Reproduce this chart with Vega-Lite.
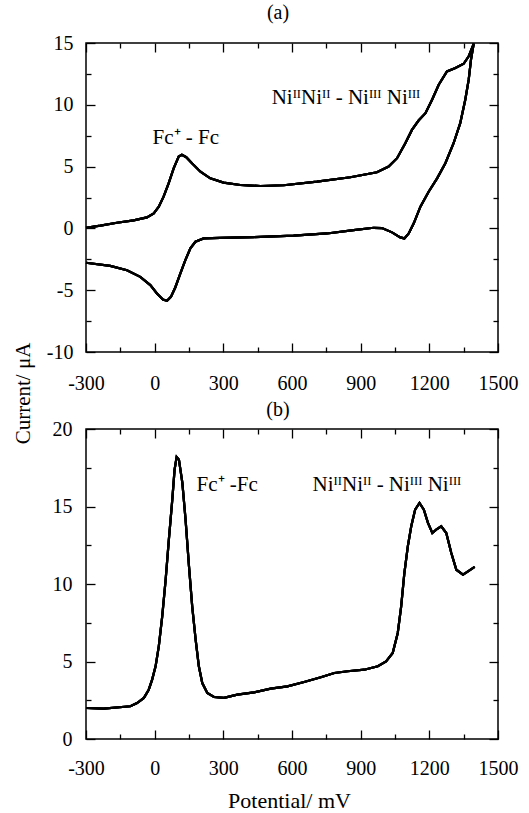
{
  "$schema": "https://vega.github.io/schema/vega-lite/v6.json",
  "background": "white",
  "padding": {"left": 11, "top": 2, "right": 5, "bottom": 0},
  "bounds": "flush",
  "spacing": 77,
  "config": {
    "view": {"stroke": "black", "strokeWidth": 1.5},
    "font": "Liberation Serif",
    "axis": {
      "domain": false, "grid": false, "tickColor": "black", "tickWidth": 1.3,
      "labelColor": "black", "labelFont": "Liberation Serif", "labelFontSize": 20,
      "labelFlush": false, "labelOverlap": false, "labelExpr": "'' + datum.value",
      "titleFont": "Liberation Serif", "titleColor": "black", "titleFontWeight": "normal", "titleFontSize": 21
    }
  },
  "vconcat": [
    {
      "width": 412, "height": 309,
      "title": {"text": "(a)", "font": "Liberation Serif", "fontSize": 20, "fontWeight": "normal", "color": "black", "frame": "group", "baseline": "alphabetic", "offset": 24, "dx": -14, "dy": 30},
      "data": {"values": [
        {"i":1,"E":-300,"I":0.05},{"i":2,"E":-237,"I":0.22},{"i":3,"E":-165,"I":0.46},{"i":4,"E":-92,"I":0.65},
        {"i":5,"E":-34,"I":0.89},{"i":6,"E":-4,"I":1.22},{"i":7,"E":18,"I":1.76},{"i":8,"E":39,"I":2.57},
        {"i":9,"E":61,"I":3.65},{"i":10,"E":83,"I":4.86},{"i":11,"E":105,"I":5.81},{"i":12,"E":119,"I":5.95},
        {"i":13,"E":138,"I":5.76},{"i":14,"E":163,"I":5.27},{"i":15,"E":200,"I":4.59},{"i":16,"E":243,"I":4.05},
        {"i":17,"E":301,"I":3.70},{"i":18,"E":374,"I":3.51},{"i":19,"E":462,"I":3.43},{"i":20,"E":564,"I":3.49},
        {"i":21,"E":709,"I":3.78},{"i":22,"E":855,"I":4.14},{"i":23,"E":971,"I":4.54},{"i":24,"E":1022,"I":5.0},
        {"i":25,"E":1059,"I":5.68},{"i":26,"E":1095,"I":6.89},{"i":27,"E":1124,"I":7.97},{"i":28,"E":1153,"I":8.73},
        {"i":29,"E":1183,"I":9.32},{"i":30,"E":1212,"I":10.41},{"i":31,"E":1241,"I":11.62},{"i":32,"E":1277,"I":12.70},
        {"i":33,"E":1314,"I":12.97},{"i":34,"E":1350,"I":13.32},{"i":35,"E":1372,"I":13.92},{"i":36,"E":1394,"I":14.95},
        {"i":37,"E":1382,"I":13.65},{"i":38,"E":1372,"I":12.03},{"i":39,"E":1357,"I":10.41},{"i":40,"E":1335,"I":8.51},
        {"i":41,"E":1306,"I":6.89},{"i":42,"E":1270,"I":5.27},{"i":43,"E":1234,"I":4.05},{"i":44,"E":1197,"I":2.97},
        {"i":45,"E":1161,"I":1.76},{"i":46,"E":1132,"I":0.41},{"i":47,"E":1110,"I":-0.41},{"i":48,"E":1091,"I":-0.81},
        {"i":49,"E":1073,"I":-0.73},{"i":50,"E":1037,"I":-0.32},{"i":51,"E":993,"I":0.03},{"i":52,"E":957,"I":0.05},
        {"i":53,"E":869,"I":-0.14},{"i":54,"E":753,"I":-0.41},{"i":55,"E":607,"I":-0.59},{"i":56,"E":433,"I":-0.70},
        {"i":57,"E":287,"I":-0.76},{"i":58,"E":214,"I":-0.81},{"i":59,"E":178,"I":-1.08},{"i":60,"E":156,"I":-1.62},
        {"i":61,"E":134,"I":-2.57},{"i":62,"E":112,"I":-3.65},{"i":63,"E":90,"I":-4.78},{"i":64,"E":71,"I":-5.54},
        {"i":65,"E":54,"I":-5.86},{"i":66,"E":36,"I":-5.76},{"i":67,"E":10,"I":-5.27},{"i":68,"E":-19,"I":-4.59},
        {"i":69,"E":-63,"I":-3.92},{"i":70,"E":-121,"I":-3.38},{"i":71,"E":-194,"I":-3.03},{"i":72,"E":-300,"I":-2.78}
      ]},
      "layer": [
        {
          "mark": {"type": "line", "color": "black", "strokeWidth": 2.2},
          "encoding": {
            "x": {"field": "E", "type": "quantitative", "scale": {"domain": [-300, 1500], "nice": false},
                  "axis": {"orient": "bottom", "values": [-300,0,300,600,900,1200,1500], "tickSize": -9, "labelPadding": 30, "labelFont": "Liberation Serif", "title": null}},
            "y": {"field": "I", "type": "quantitative", "scale": {"domain": [-10, 15], "nice": false, "zero": false},
                  "axis": {"orient": "left", "values": [-10,-5,0,5,10,15], "tickSize": -9, "labelPadding": 22, "labelFont": "Liberation Serif",
                           "title": "Current/ μA", "titleAngle": 270, "titleX": -63, "titleY": 350, "titleAlign": "center", "titleBaseline": "middle"}},
            "order": {"field": "i", "type": "quantitative"}
          }
        },
        {
          "mark": {"type": "line", "color": "black", "strokeWidth": 2.2},
          "encoding": {
            "x": {"field": "E", "type": "quantitative", "scale": {"domain": [-300, 1500], "nice": false},
                  "axis": {"orient": "top", "values": [-300,0,300,600,900,1200,1500], "tickSize": -9, "labels": false, "title": null}},
            "y": {"field": "I", "type": "quantitative", "scale": {"domain": [-10, 15], "nice": false, "zero": false},
                  "axis": {"orient": "right", "values": [-10,-5,0,5,10,15], "tickSize": -9, "labels": false, "title": null}},
            "order": {"field": "i", "type": "quantitative"}
          }
        },
        {
          "mark": {"type": "line", "color": "black", "strokeWidth": 2.2},
          "encoding": {
            "x": {"field": "E", "type": "quantitative", "scale": {"domain": [-300, 1500], "nice": false},
                  "axis": {"orient": "bottom", "values": [-150,150,450,750,1050,1350], "tickSize": -5, "labels": false, "title": null}},
            "y": {"field": "I", "type": "quantitative", "scale": {"domain": [-10, 15], "nice": false, "zero": false},
                  "axis": {"orient": "left", "values": [-7.5,-2.5,2.5,7.5,12.5], "tickSize": -5, "labels": false, "title": null}},
            "order": {"field": "i", "type": "quantitative"}
          }
        },
        {
          "mark": {"type": "line", "color": "black", "strokeWidth": 2.2},
          "encoding": {
            "x": {"field": "E", "type": "quantitative", "scale": {"domain": [-300, 1500], "nice": false},
                  "axis": {"orient": "top", "values": [-150,150,450,750,1050,1350], "tickSize": -5, "labels": false, "title": null}},
            "y": {"field": "I", "type": "quantitative", "scale": {"domain": [-10, 15], "nice": false, "zero": false},
                  "axis": {"orient": "right", "values": [-7.5,-2.5,2.5,7.5,12.5], "tickSize": -5, "labels": false, "title": null}},
            "order": {"field": "i", "type": "quantitative"}
          }
        },
        {
          "data": {"values": [
            {"E": -9, "I": 6.83, "label": "Fc⁺ - Fc"},
            {"E": 511, "I": 10.04, "label": "NiᴵᴵNiᴵᴵ - Niᴵᴵᴵ Niᴵᴵᴵ"}
          ]},
          "mark": {"type": "text", "align": "left", "baseline": "alphabetic", "fontSize": 21, "font": "Liberation Serif", "color": "black"},
          "encoding": {
            "x": {"field": "E", "type": "quantitative", "scale": {"domain": [-300, 1500], "nice": false}, "axis": null},
            "y": {"field": "I", "type": "quantitative", "scale": {"domain": [-10, 15], "nice": false, "zero": false}, "axis": null},
            "text": {"field": "label"}
          }
        }
      ],
      "resolve": {"axis": {"x": "independent", "y": "independent"}}
    },
    {
      "width": 412, "height": 310,
      "title": {"text": "(b)", "font": "Liberation Serif", "fontSize": 20, "fontWeight": "normal", "color": "black", "frame": "group", "baseline": "alphabetic", "offset": 12, "dx": -14, "dy": 29},
      "data": {"values": [
        {"i":1,"E":-300,"I":2.0},{"i":2,"E":-223,"I":1.96},{"i":3,"E":-106,"I":2.11},{"i":4,"E":-77,"I":2.32},
        {"i":5,"E":-47,"I":2.65},{"i":6,"E":-26,"I":3.18},{"i":7,"E":-11,"I":3.83},{"i":8,"E":4,"I":4.69},
        {"i":9,"E":18,"I":5.98},{"i":10,"E":33,"I":7.91},{"i":11,"E":48,"I":10.28},{"i":12,"E":62,"I":12.86},
        {"i":13,"E":77,"I":15.44},{"i":14,"E":87,"I":17.38},{"i":15,"E":96,"I":18.19},{"i":16,"E":106,"I":18.02},
        {"i":17,"E":121,"I":16.52},{"i":18,"E":135,"I":14.15},{"i":19,"E":150,"I":11.14},{"i":20,"E":164,"I":8.56},
        {"i":21,"E":179,"I":6.41},{"i":22,"E":193,"I":4.69},{"i":23,"E":208,"I":3.61},{"i":24,"E":230,"I":2.97},
        {"i":25,"E":259,"I":2.71},{"i":26,"E":303,"I":2.65},{"i":27,"E":361,"I":2.86},{"i":28,"E":434,"I":3.01},
        {"i":29,"E":507,"I":3.25},{"i":30,"E":580,"I":3.40},{"i":31,"E":653,"I":3.68},{"i":32,"E":726,"I":3.98},
        {"i":33,"E":785,"I":4.26},{"i":34,"E":843,"I":4.37},{"i":35,"E":916,"I":4.47},{"i":36,"E":975,"I":4.69},
        {"i":37,"E":1011,"I":5.01},{"i":38,"E":1040,"I":5.55},{"i":39,"E":1062,"I":6.84},{"i":40,"E":1077,"I":8.56},
        {"i":41,"E":1091,"I":10.71},{"i":42,"E":1106,"I":12.43},{"i":43,"E":1121,"I":13.72},{"i":44,"E":1138,"I":14.80},
        {"i":45,"E":1157,"I":15.23},{"i":46,"E":1176,"I":14.80},{"i":47,"E":1194,"I":13.94},{"i":48,"E":1213,"I":13.29},
        {"i":49,"E":1230,"I":13.51},{"i":50,"E":1252,"I":13.72},{"i":51,"E":1274,"I":13.29},{"i":52,"E":1296,"I":12.0},
        {"i":53,"E":1318,"I":10.92},{"i":54,"E":1347,"I":10.60},{"i":55,"E":1369,"I":10.82},{"i":56,"E":1398,"I":11.10}
      ]},
      "layer": [
        {
          "mark": {"type": "line", "color": "black", "strokeWidth": 2.2},
          "encoding": {
            "x": {"field": "E", "type": "quantitative", "scale": {"domain": [-300, 1500], "nice": false},
                  "axis": {"orient": "bottom", "values": [-300,0,300,600,900,1200,1500], "tickSize": -9, "labelPadding": 28, "labelFont": "Liberation Serif",
                           "title": "Potential/ mV", "titleFontSize": 22, "titleX": 203, "titleY": 61, "titleAlign": "center", "titleBaseline": "middle"}},
            "y": {"field": "I", "type": "quantitative", "scale": {"domain": [0, 20], "nice": false},
                  "axis": {"orient": "left", "values": [0,5,10,15,20], "tickSize": -9, "labelPadding": 23, "labelFont": "Liberation Serif", "title": null}},
            "order": {"field": "i", "type": "quantitative"}
          }
        },
        {
          "mark": {"type": "line", "color": "black", "strokeWidth": 2.2},
          "encoding": {
            "x": {"field": "E", "type": "quantitative", "scale": {"domain": [-300, 1500], "nice": false},
                  "axis": {"orient": "top", "values": [-300,0,300,600,900,1200,1500], "tickSize": -9, "labels": false, "title": null}},
            "y": {"field": "I", "type": "quantitative", "scale": {"domain": [0, 20], "nice": false},
                  "axis": {"orient": "right", "values": [0,5,10,15,20], "tickSize": -9, "labels": false, "title": null}},
            "order": {"field": "i", "type": "quantitative"}
          }
        },
        {
          "mark": {"type": "line", "color": "black", "strokeWidth": 2.2},
          "encoding": {
            "x": {"field": "E", "type": "quantitative", "scale": {"domain": [-300, 1500], "nice": false},
                  "axis": {"orient": "bottom", "values": [-150,150,450,750,1050,1350], "tickSize": -5, "labels": false, "title": null}},
            "y": {"field": "I", "type": "quantitative", "scale": {"domain": [0, 20], "nice": false},
                  "axis": {"orient": "left", "values": [2.5,7.5,12.5,17.5], "tickSize": -5, "labels": false, "title": null}},
            "order": {"field": "i", "type": "quantitative"}
          }
        },
        {
          "mark": {"type": "line", "color": "black", "strokeWidth": 2.2},
          "encoding": {
            "x": {"field": "E", "type": "quantitative", "scale": {"domain": [-300, 1500], "nice": false},
                  "axis": {"orient": "top", "values": [-150,150,450,750,1050,1350], "tickSize": -5, "labels": false, "title": null}},
            "y": {"field": "I", "type": "quantitative", "scale": {"domain": [0, 20], "nice": false},
                  "axis": {"orient": "right", "values": [2.5,7.5,12.5,17.5], "tickSize": -5, "labels": false, "title": null}},
            "order": {"field": "i", "type": "quantitative"}
          }
        },
        {
          "data": {"values": [
            {"E": 183, "I": 16.0, "label": "Fc⁺ -Fc"},
            {"E": 690, "I": 16.0, "label": "NiᴵᴵNiᴵᴵ - Niᴵᴵᴵ Niᴵᴵᴵ"}
          ]},
          "mark": {"type": "text", "align": "left", "baseline": "alphabetic", "fontSize": 21, "font": "Liberation Serif", "color": "black"},
          "encoding": {
            "x": {"field": "E", "type": "quantitative", "scale": {"domain": [-300, 1500], "nice": false}, "axis": null},
            "y": {"field": "I", "type": "quantitative", "scale": {"domain": [0, 20], "nice": false}, "axis": null},
            "text": {"field": "label"}
          }
        }
      ],
      "resolve": {"axis": {"x": "independent", "y": "independent"}}
    }
  ]
}
